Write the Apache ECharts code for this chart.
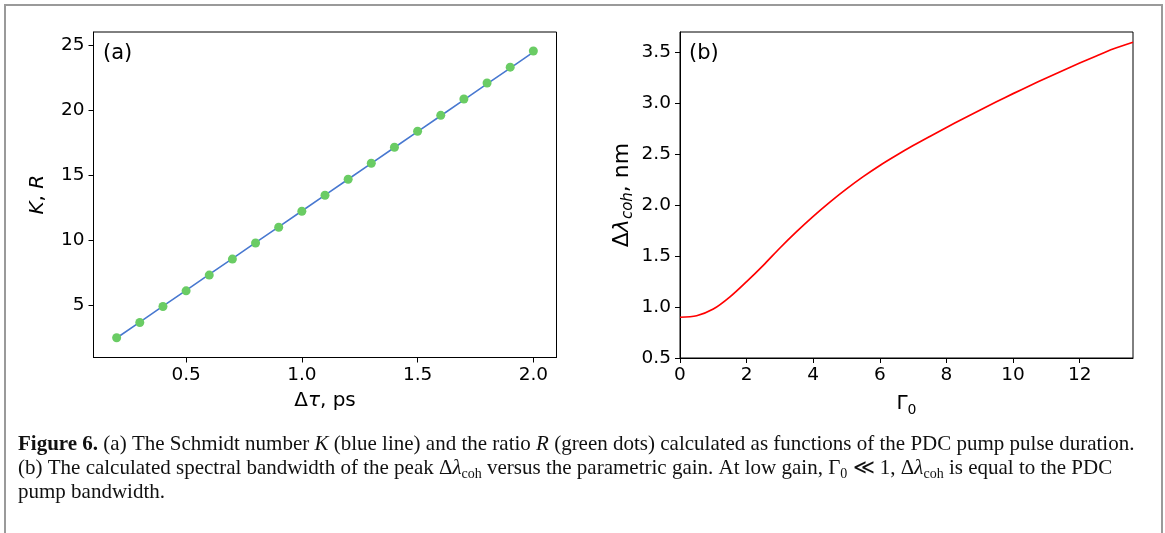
<!DOCTYPE html>
<html>
<head>
<meta charset="utf-8">
<script src="https://cdn.jsdelivr.net/npm/echarts@6/dist/echarts.min.js"></script>
<style>
html,body{margin:0;padding:0;background:#fff;}
#chart{width:1165px;height:533px;}
</style>
</head>
<body>
<div id="chart"></div>
<script>
// Panel (a): pulse duration (ps), Schmidt number K (line) and ratio R (dots)
const tauValues = [0.2,0.3,0.4,0.5,0.6,0.7,0.8,0.9,1.0,1.1,1.2,1.3,1.4,1.5,1.6,1.7,1.8,1.9,2.0];
const kValues   = [2.50,3.72,4.94,6.16,7.38,8.60,9.82,11.03,12.25,13.47,14.69,15.91,17.13,18.35,19.57,20.79,22.01,23.23,24.45];
const rValues   = [2.52,3.69,4.92,6.12,7.33,8.56,9.79,11.00,12.23,13.46,14.69,15.92,17.15,18.38,19.60,20.85,22.08,23.30,24.54];
const aXTicks = [0.5,1.0,1.5,2.0];
const aYTicks = [5,10,15,20,25];

// Panel (b): parametric gain Gamma0 vs coherent bandwidth (nm)
const gainValues = [0,0.5,1,1.5,2,2.5,3,3.5,4,4.5,5,5.5,6,6.5,7,7.5,8,8.5,9,9.5,10,10.5,11,11.5,12,12.5,13,13.6];
const bwValues   = [0.90,0.915,0.98,1.10,1.25,1.41,1.58,1.74,1.89,2.03,2.16,2.28,2.39,2.49,2.585,2.675,2.763,2.849,2.933,3.015,3.095,3.173,3.249,3.323,3.395,3.465,3.533,3.60];
const bXTicks = [0,2,4,6,8,10,12];
const bYTicks = [0.5,1.0,1.5,2.0,2.5,3.0,3.5];

const captionLines = [
  '{b|Figure 6.} (a) The Schmidt number {i|K} (blue line) and the ratio {i|R} (green dots) calculated as functions of the PDC pump pulse duration.',
  '(b) The calculated spectral bandwidth of the peak Δ{i|λ}{sub|coh} versus the parametric gain. At low gain, Γ{sub|0} ≪ 1, Δ{i|λ}{sub|coh} is equal to the PDC',
  'pump bandwidth.'
];

const FONT = 'DejaVu Sans';
const tickFont = 18.5;
const nameFont = 20;

function pairs(xs, ys){ return xs.map((x,i)=>[x, ys[i]]); }

function makeRich(size){
  return {
    i:{fontStyle:'italic', fontFamily:FONT, fontSize:size, color:'#000'},
    sub:{fontFamily:FONT, fontSize:Math.round(size*0.7), color:'#000', padding:[12,0,0,0]},
    isub:{fontStyle:'italic', fontFamily:FONT, fontSize:Math.round(size*0.7), color:'#000', padding:[12,0,0,0]}
  };
}

function xAxisCfg(gridIndex, min, max, ticks, fmt, name){
  return {
    type:'value', gridIndex, min, max,
    axisLine:{show:true, onZero:false, lineStyle:{color:'#000', width:1}},
    axisTick:{show:true, inside:false, length:5, customValues:ticks, lineStyle:{color:'#000', width:1}},
    axisLabel:{show:true, customValues:ticks, formatter:fmt, margin:8, color:'#000', fontFamily:FONT, fontSize:tickFont},
    splitLine:{show:false},
    name, nameLocation:'middle', nameGap:33,
    nameTextStyle:{color:'#000', fontFamily:FONT, fontSize:nameFont, rich:makeRich(nameFont)}
  };
}
function yAxisCfg(gridIndex, min, max, ticks, fmt, name, gap, size){
  return {
    type:'value', gridIndex, min, max,
    axisLine:{show:true, onZero:false, lineStyle:{color:'#000', width:1}},
    axisTick:{show:true, inside:false, length:5, customValues:ticks, lineStyle:{color:'#000', width:1}},
    axisLabel:{show:true, customValues:ticks, formatter:fmt, margin:9, color:'#000', fontFamily:FONT, fontSize:tickFont},
    splitLine:{show:false},
    name, nameLocation:'middle', nameGap:gap,
    nameTextStyle:{color:'#000', fontFamily:FONT, fontSize:size, rich:makeRich(size)}
  };
}

const chart = echarts.init(document.getElementById('chart'), null, {renderer:'canvas'});

const CAPF = 'Liberation Serif';
const capSize = 21;
const capRich = {
  b:{fontWeight:'bold', fontFamily:CAPF, fontSize:capSize, color:'#111'},
  i:{fontStyle:'italic', fontFamily:CAPF, fontSize:capSize, color:'#111'},
  sub:{fontFamily:CAPF, fontSize:14, color:'#111', padding:[11,0,0,0]}
};

const graphics = [
  {type:'rect', shape:{x:5, y:5, width:1157, height:540}, style:{fill:'none', stroke:'#9a9a9a', lineWidth:2}, silent:true},
  {type:'text', left:103, top:43, style:{text:'(a)', fontFamily:FONT, fontSize:21, fill:'#000'}},
  {type:'text', left:689, top:43, style:{text:'(b)', fontFamily:FONT, fontSize:21, fill:'#000'}}
];
captionLines.forEach((ln, k)=>{
  graphics.push({type:'text', left:18, top:434 + k*24, style:{text:ln, fontFamily:CAPF, fontSize:capSize, fill:'#111', rich:capRich}});
});

chart.setOption({
  animation:false,
  backgroundColor:'#fff',
  grid:[
    {left:93.5, top:32, width:463, height:325.5, show:true, borderColor:'#000', borderWidth:1, backgroundColor:'transparent'},
    {left:680, top:32, width:453, height:326, show:true, borderColor:'#000', borderWidth:1, backgroundColor:'transparent'}
  ],
  xAxis:[
    xAxisCfg(0, 0.1, 2.1, aXTicks, v=>v.toFixed(1), 'Δ{i|τ}, ps'),
    xAxisCfg(1, 0, 13.6, bXTicks, v=>String(v), 'Γ{sub|0}')
  ],
  yAxis:[
    yAxisCfg(0, 1, 26, aYTicks, v=>String(v), '{i|K}, {i|R}', 46, 20),
    yAxisCfg(1, 0.5, 3.7, bYTicks, v=>v.toFixed(1), 'Δ{i|λ}{isub|coh}, nm', 44, 22)
  ],
  series:[
    {type:'line', xAxisIndex:0, yAxisIndex:0, data:pairs(tauValues, kValues), showSymbol:false, symbol:'none',
     lineStyle:{color:'#4878D0', width:1.6}, z:2},
    {type:'scatter', xAxisIndex:0, yAxisIndex:0, data:pairs(tauValues, rValues), symbol:'circle', symbolSize:9,
     itemStyle:{color:'#6ACC64', opacity:1}, z:3},
    {type:'line', xAxisIndex:1, yAxisIndex:1, data:pairs(gainValues, bwValues), showSymbol:false, symbol:'none', smooth:0.3,
     lineStyle:{color:'#ff0000', width:1.7}, z:2}
  ],
  graphic:graphics
});
</script>
</body>
</html>
